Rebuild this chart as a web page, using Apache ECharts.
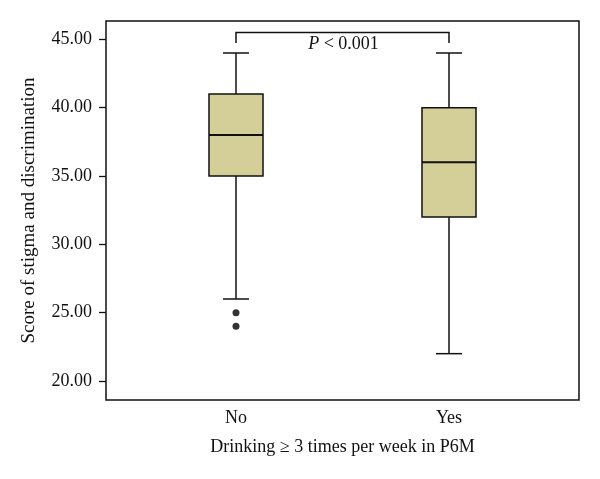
<!DOCTYPE html>
<html>
<head>
<meta charset="utf-8">
<script src="https://cdn.jsdelivr.net/npm/echarts@6/dist/echarts.min.js"></script>
<style>html,body{margin:0;padding:0;background:#fff}#c{width:600px;height:479px}</style>
</head>
<body>
<div id="c"></div>
<script>
var categories = ['No', 'Yes'];
var categoryPos = [1, 2];
// [min whisker, Q1, median, Q3, max whisker]
var boxNo = [26, 35, 38, 41, 44];
var boxYes = [22, 32, 36, 40, 44];
var outliersNo = [25, 24];
var yTicks = [20, 25, 30, 35, 40, 45];
var bracketY = 45.5;
var bracketTickEnd = 44.73;
var pText = '< 0.001';

var boxData = [
  [categoryPos[0]].concat(boxNo),
  [categoryPos[1]].concat(boxYes)
];
var outlierData = outliersNo.map(function (v) { return [categoryPos[0], v]; });

var chart = echarts.init(document.getElementById('c'), null, {renderer: 'canvas'});
var serif = '"Liberation Serif", "DejaVu Serif", serif';
var ink = '#111';

chart.setOption({
  animation: false,
  backgroundColor: '#fff',
  grid: {
    left: 106, right: 21, top: 21, bottom: 79,
    show: true, borderColor: ink, borderWidth: 1.5, backgroundColor: 'transparent'
  },
  xAxis: {
    type: 'value',
    min: 0.3897, max: 2.6103,
    splitLine: {show: false},
    axisLine: {show: false},
    axisTick: {show: false},
    axisLabel: {
      customValues: categoryPos,
      formatter: function (v) { return categories[categoryPos.indexOf(Math.round(v))] || ''; },
      fontFamily: serif, fontSize: 18, color: ink, margin: 9
    },
    name: 'Drinking \u2265 3 times per week in P6M',
    nameLocation: 'middle', nameGap: 38,
    nameTextStyle: {fontFamily: serif, fontSize: 18, color: ink}
  },
  yAxis: {
    type: 'value',
    min: 18.61, max: 46.34,
    splitLine: {show: false},
    axisLine: {show: false},
    axisTick: {show: true, customValues: yTicks, length: 7, lineStyle: {color: ink, width: 1.3}},
    axisLabel: {
      customValues: yTicks,
      formatter: function (v) { return v.toFixed(2); },
      fontFamily: serif, fontSize: 18, color: ink, margin: 14
    },
    name: 'Score of stigma and discrimination',
    nameLocation: 'middle', nameGap: 67,
    nameTextStyle: {fontFamily: serif, fontSize: 19, color: ink}
  },
  series: [
    {
      type: 'custom',
      data: boxData,
      renderItem: function (params, api) {
        var x = api.value(0);
        var pMin = api.coord([x, api.value(1)]);
        var pQ1 = api.coord([x, api.value(2)]);
        var pMed = api.coord([x, api.value(3)]);
        var pQ3 = api.coord([x, api.value(4)]);
        var pMax = api.coord([x, api.value(5)]);
        var cx = pMin[0];
        var bw = 54, cw = 26;
        var ls = {stroke: ink, lineWidth: 1.5};
        return {
          type: 'group',
          children: [
            {type: 'line', shape: {x1: cx, y1: pMax[1], x2: cx, y2: pQ3[1]}, style: ls},
            {type: 'line', shape: {x1: cx, y1: pQ1[1], x2: cx, y2: pMin[1]}, style: ls},
            {type: 'line', shape: {x1: cx - cw / 2, y1: pMax[1], x2: cx + cw / 2, y2: pMax[1]}, style: ls},
            {type: 'line', shape: {x1: cx - cw / 2, y1: pMin[1], x2: cx + cw / 2, y2: pMin[1]}, style: ls},
            {type: 'rect', shape: {x: cx - bw / 2, y: pQ3[1], width: bw, height: pQ1[1] - pQ3[1]},
              style: {fill: '#d4cf98', stroke: ink, lineWidth: 1.5}},
            {type: 'line', shape: {x1: cx - bw / 2, y1: pMed[1], x2: cx + bw / 2, y2: pMed[1]},
              style: {stroke: ink, lineWidth: 2}}
          ]
        };
      },
      z: 2
    },
    {
      type: 'scatter',
      data: outlierData,
      symbol: 'circle',
      symbolSize: 7,
      itemStyle: {color: '#000'},
      z: 3
    },
    {
      type: 'custom',
      data: [[categoryPos[0], categoryPos[1]]],
      renderItem: function (params, api) {
        var a = api.coord([api.value(0), bracketY]);
        var b = api.coord([api.value(1), bracketY]);
        var ae = api.coord([api.value(0), bracketTickEnd]);
        var ls = {stroke: ink, lineWidth: 1.5, fill: null};
        var mid = (a[0] + b[0]) / 2;
        return {
          type: 'group',
          children: [
            {type: 'polyline', shape: {points: [[a[0], ae[1]], a, b, [b[0], ae[1]]]}, style: ls},
            {type: 'text', x: mid + 1, y: a[1] + 3,
              style: {
                text: '{i|P} ' + pText,
                align: 'center', verticalAlign: 'top',
                fontFamily: serif, fontSize: 18, fill: ink,
                rich: {i: {fontStyle: 'italic', fontFamily: serif, fontSize: 18, fill: ink}}
              }}
          ]
        };
      },
      z: 4
    }
  ]
});
</script>
</body>
</html>
